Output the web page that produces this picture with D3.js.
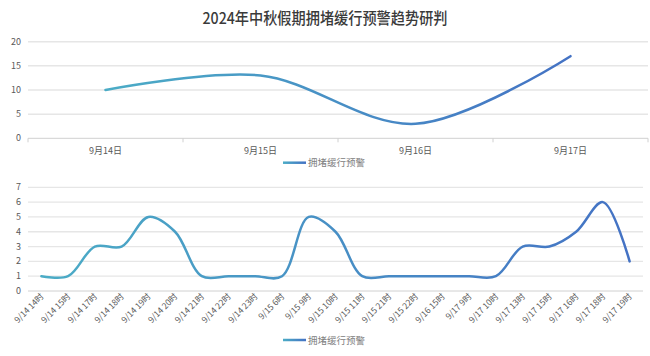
<!DOCTYPE html>
<html><head><meta charset="utf-8">
<script src="https://cdn.jsdelivr.net/npm/d3@7"></script>
<style>body{margin:0;background:#fff}svg{display:block}text{font-family:"Noto Sans CJK SC","Noto Sans",sans-serif}</style>
</head><body><svg id="c" width="650" height="356"></svg>
<script>
const title = "2024年中秋假期拥堵缓行预警趋势研判";
const seriesName = "拥堵缓行预警";
const dayCategories = ["9月14日","9月15日","9月16日","9月17日"];
const dayValues = [10,13,3,17];
const dayTicks = [0,5,10,15,20];
const hourCategories = ["9/14 14时","9/14 15时","9/14 17时","9/14 18时","9/14 19时","9/14 20时","9/14 21时","9/14 22时","9/14 23时","9/15 6时","9/15 9时","9/15 10时","9/15 11时","9/15 21时","9/15 22时","9/16 15时","9/17 9时","9/17 10时","9/17 13时","9/17 15时","9/17 16时","9/17 18时","9/17 19时"];
const hourValues = [1,1,3,3,5,4,1,1,1,1,5,4,1,1,1,1,1,1,3,3,4,6,2];
const hourTicks = [0,1,2,3,4,5,6,7];

const svg = d3.select("#c");
const defs = svg.append("defs");
const c1 = "#4bacc6", c2 = "#4472c4";

svg.append("text").attr("x",325).attr("y",24).attr("text-anchor","middle")
  .attr("font-size",16).attr("font-weight",500).attr("fill","#3a3a3a").attr("textLength",245).attr("lengthAdjust","spacingAndGlyphs")
  .style("font-family","'Noto Sans CJK SC'").text(title);

function grad(id,x1,x2){
  const g = defs.append("linearGradient").attr("id",id).attr("gradientUnits","userSpaceOnUse")
    .attr("x1",x1).attr("x2",x2).attr("y1",0).attr("y2",0);
  g.append("stop").attr("offset","0").attr("stop-color",c1);
  g.append("stop").attr("offset","1").attr("stop-color",c2);
}

function legend(y,id){
  grad(id,283,306);
  svg.append("line").attr("x1",283).attr("x2",306).attr("y1",y).attr("y2",y)
    .attr("stroke",`url(#${id})`).attr("stroke-width",2.5);
  svg.append("text").attr("x",308).attr("y",y+3.5).attr("font-size",9.5).attr("fill","#808080").text(seriesName);
}

const curve = d3.curveCatmullRom.alpha(0.5);

// Top chart
{
  const x = d3.scaleBand().domain(dayCategories).range([28,648]);
  const y = d3.scaleLinear().domain([0,20]).range([138.3,41.7]);
  const g = svg.append("g");
  g.selectAll(".gl").data(dayTicks.filter(d=>d>0)).join("line")
    .attr("x1",28).attr("x2",648).attr("y1",d=>y(d)).attr("y2",d=>y(d))
    .attr("stroke","#e6e6e6").attr("stroke-width",1.5);
  g.selectAll(".yl").data(dayTicks).join("text")
    .attr("x",21).attr("y",d=>y(d)+3).attr("text-anchor","end").attr("font-size",9).attr("fill","#595959").text(d=>d);
  g.append("line").attr("x1",28).attr("x2",648).attr("y1",y(0)).attr("y2",y(0)).attr("stroke","#d0d0d0").attr("stroke-width",1);
  const bounds = dayCategories.map(d=>x(d)).concat([648]);
  g.selectAll(".tk").data(bounds).join("line").attr("x1",d=>d).attr("x2",d=>d).attr("y1",y(0)).attr("y2",y(0)+4)
    .attr("stroke","#d0d0d0");
  g.selectAll(".xl").data(dayCategories).join("text")
    .attr("x",d=>x(d)+x.bandwidth()/2).attr("y",154).attr("text-anchor","middle").attr("font-size",9).attr("fill","#595959").text(d=>d);
  const px = i=>x(dayCategories[i])+x.bandwidth()/2;
  grad("g1",px(0),px(dayCategories.length-1));
  const line = d3.line().x((d,i)=>px(i)).y(d=>y(d)).curve(curve);
  g.append("path").attr("d",line(dayValues)).attr("fill","none").attr("stroke","url(#g1)").attr("stroke-width",2.5).attr("stroke-linecap","round");
  legend(162.7,"lg1");
}

// Bottom chart
{
  const x = d3.scaleBand().domain(hourCategories).range([28,643]);
  const y = d3.scaleLinear().domain([0,7]).range([291,187.3]);
  const g = svg.append("g");
  g.selectAll(".gl").data(hourTicks.filter(d=>d>0)).join("line")
    .attr("x1",28).attr("x2",643).attr("y1",d=>y(d)).attr("y2",d=>y(d))
    .attr("stroke","#e6e6e6").attr("stroke-width",1.3);
  g.append("line").attr("x1",28).attr("x2",643).attr("y1",y(0)).attr("y2",y(0)).attr("stroke","#d0d0d0").attr("stroke-width",1);
  g.selectAll(".yl").data(hourTicks).join("text")
    .attr("x",21).attr("y",d=>y(d)+3).attr("text-anchor","end").attr("font-size",9).attr("fill","#595959").text(d=>d);
  const px = i=>x(hourCategories[i])+x.bandwidth()/2;
  g.selectAll(".xl").data(hourCategories).join("text")
    .attr("transform",(d,i)=>`translate(${px(i)+3},${297}) rotate(-45)`)
    .attr("text-anchor","end").attr("font-size",8.5).attr("fill","#595959").text(d=>d);
  grad("g2",px(0),px(hourCategories.length-1));
  const line = d3.line().x((d,i)=>px(i)).y(d=>y(d)).curve(curve);
  g.append("path").attr("d",line(hourValues)).attr("fill","none").attr("stroke","url(#g2)").attr("stroke-width",2.5).attr("stroke-linecap","round");
  legend(340,"lg2");
}
</script></body></html>
